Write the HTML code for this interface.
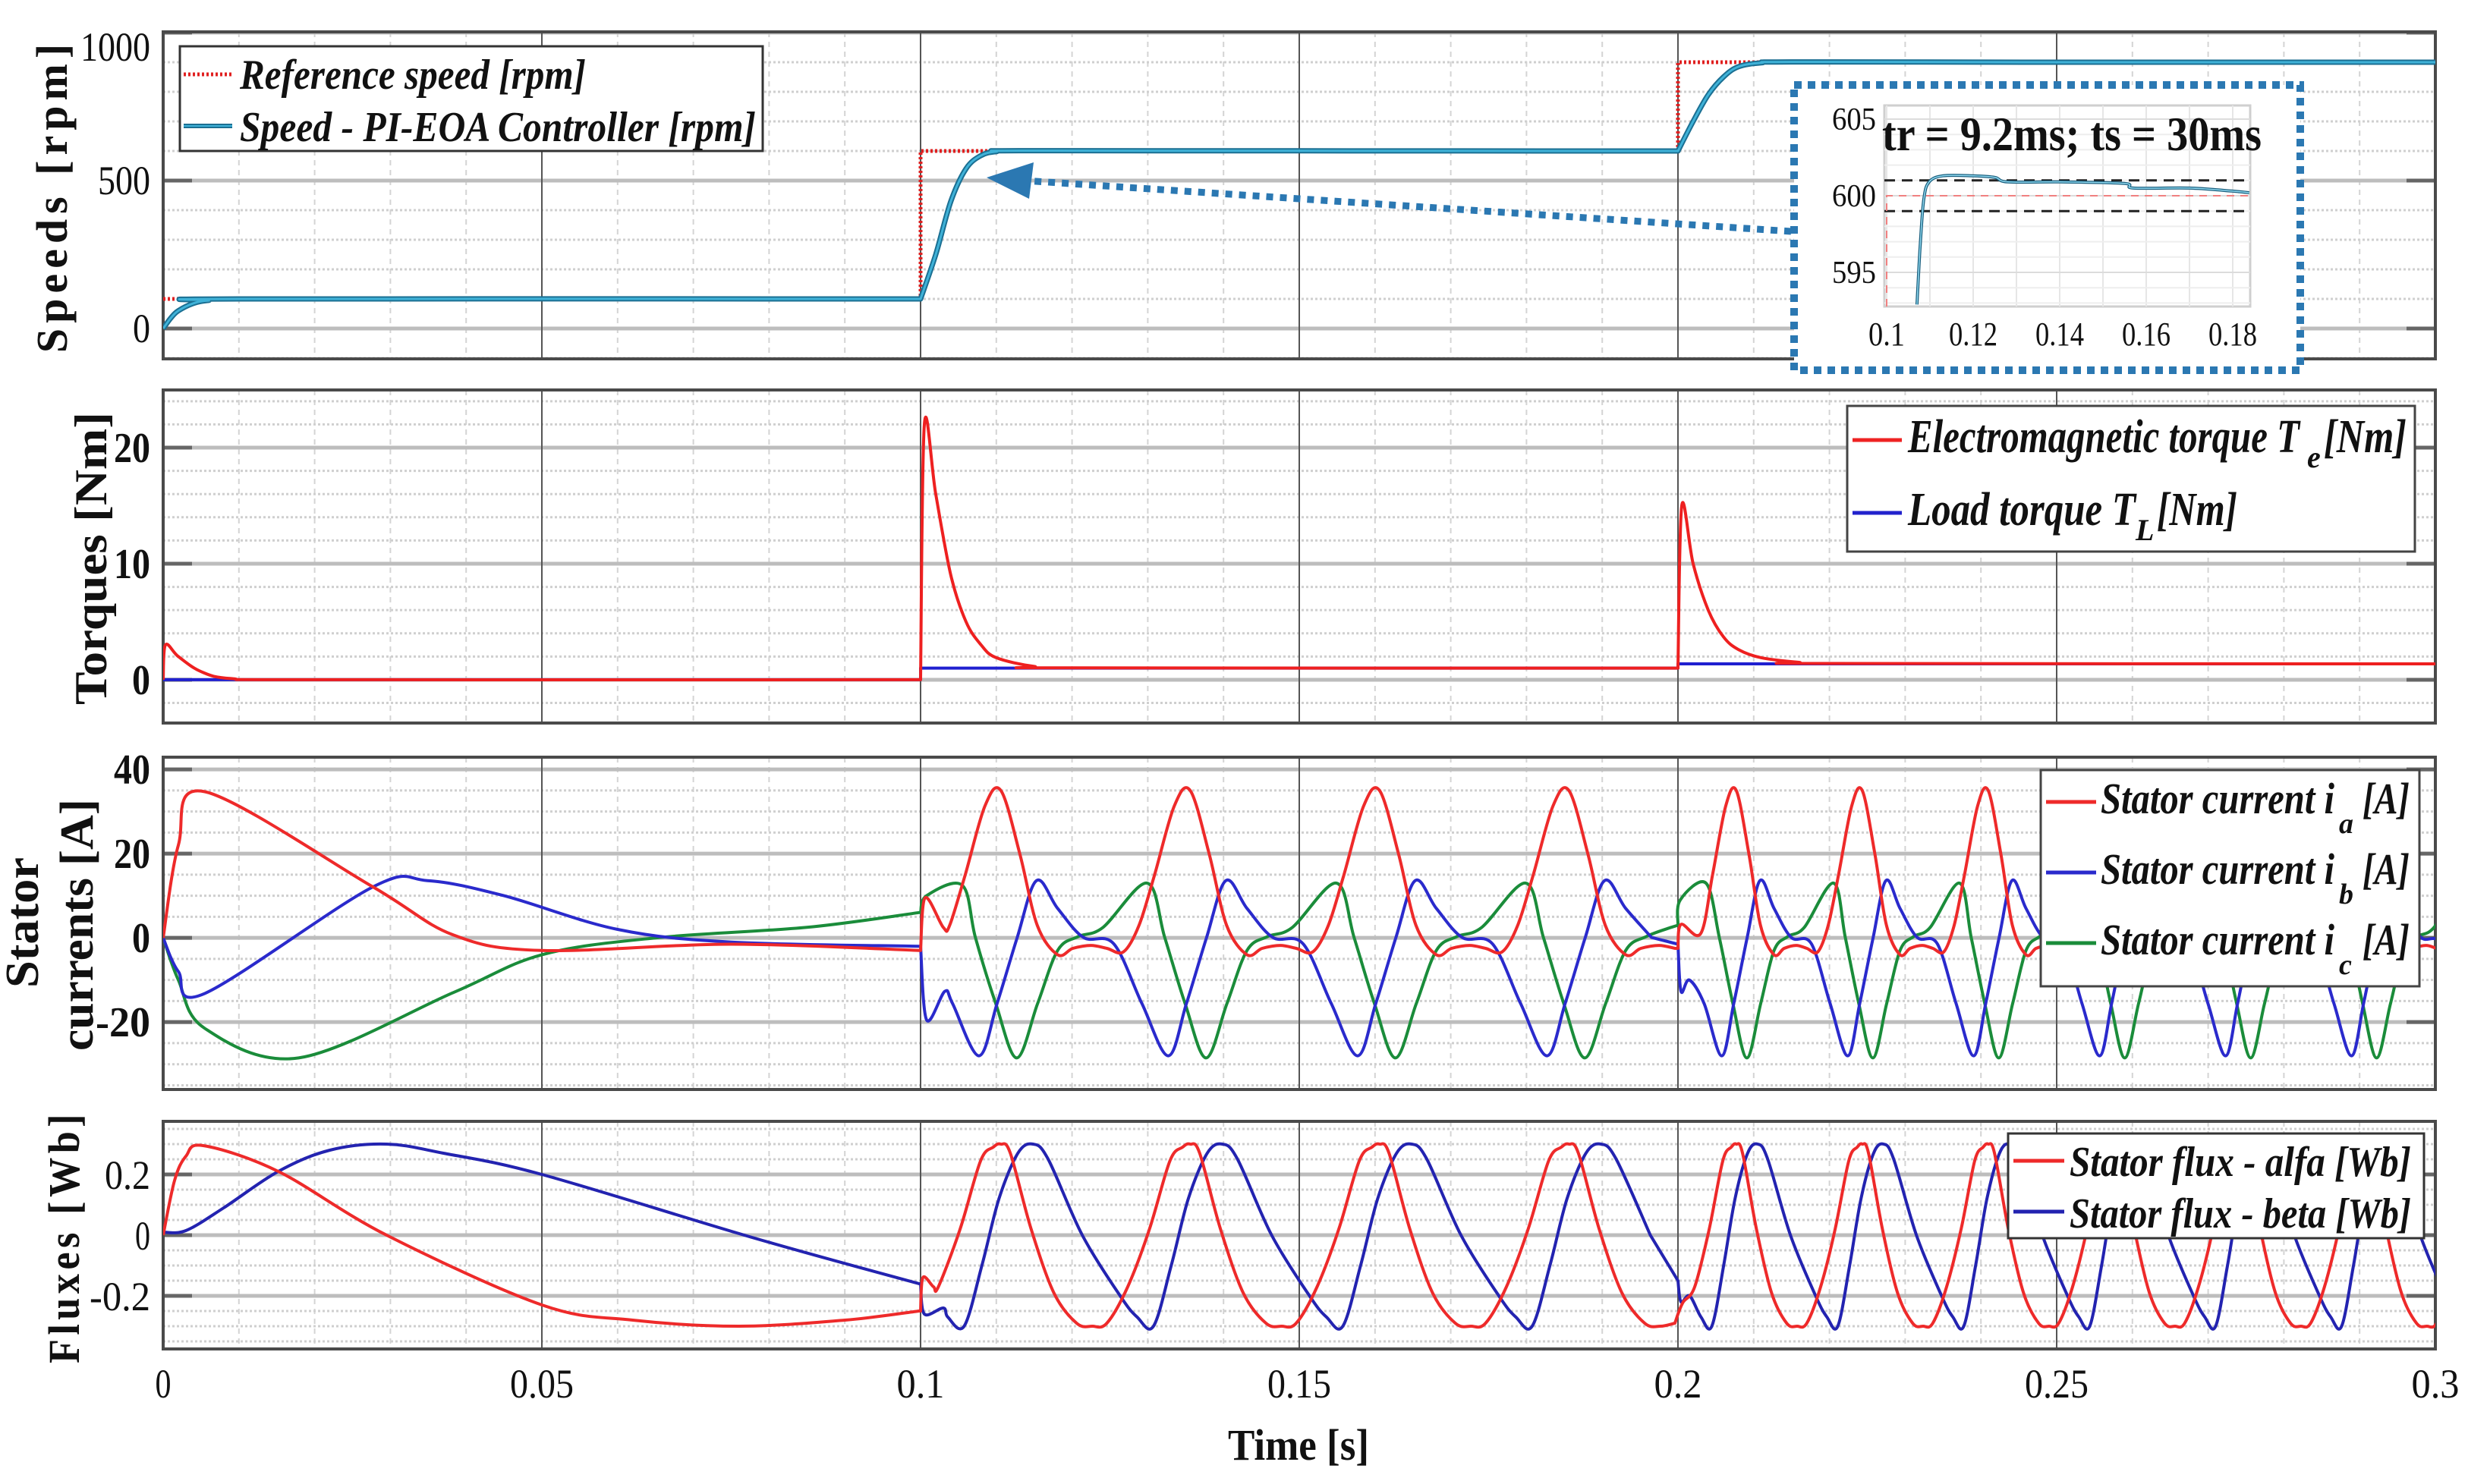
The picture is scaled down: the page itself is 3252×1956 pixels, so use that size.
<!DOCTYPE html>
<html><head><meta charset="utf-8"><title>PI-EOA speed control results</title>
<style>
html,body{margin:0;padding:0;background:#fff;}
svg{display:block;}
text{font-family:"Liberation Serif",serif;fill:#111;}
.lg{font-weight:bold;font-style:italic;}
.ax{font-weight:bold;}
</style></head>
<body>
<svg id="fig" xmlns="http://www.w3.org/2000/svg" width="3252" height="1956" viewBox="0 0 3252 1956">
<rect x="0" y="0" width="3252" height="1956" fill="#fff"/>
<defs>
<clipPath id="c1"><rect x="215" y="42" width="2994" height="431"/></clipPath>
<clipPath id="c2"><rect x="215" y="514" width="2994" height="439"/></clipPath>
<clipPath id="c3"><rect x="215" y="998" width="2994" height="438"/></clipPath>
<clipPath id="c4"><rect x="215" y="1478" width="2994" height="300"/></clipPath>
<clipPath id="ci"><rect x="2483" y="139" width="482" height="265"/></clipPath>
</defs>
<g id="grids"></g>
<g id="marks"></g>
<g id="inset"></g>
<g id="labels"></g>

<!-- axis titles -->
<text class="ax" font-size="58" letter-spacing="7" text-anchor="middle" transform="translate(88,258) rotate(-90)">Speeds [rpm]</text>
<text class="ax" font-size="60" text-anchor="middle" transform="translate(140,736) rotate(-90)" textLength="386" lengthAdjust="spacingAndGlyphs">Torques [Nm]</text>
<text class="ax" font-size="62" text-anchor="middle" transform="translate(50,1216) rotate(-90)" textLength="172" lengthAdjust="spacingAndGlyphs">Stator</text>
<text class="ax" font-size="62" text-anchor="middle" transform="translate(122,1219) rotate(-90)" textLength="332" lengthAdjust="spacingAndGlyphs">currents [A]</text>
<text class="ax" font-size="58" letter-spacing="6" text-anchor="middle" transform="translate(104,1630) rotate(-90)" textLength="334" lengthAdjust="spacingAndGlyphs">Fluxes [Wb]</text>
<text class="ax" font-size="58" text-anchor="middle" x="1711" y="1924" textLength="186" lengthAdjust="spacingAndGlyphs">Time [s]</text>

<!-- legend 1 -->
<g>
<rect x="237" y="61" width="768" height="138" fill="#fff" stroke="#333" stroke-width="3"/>
<line x1="242" y1="98" x2="306" y2="98" stroke="#e02020" stroke-width="5" stroke-dasharray="3 3"/>
<line x1="242" y1="166" x2="306" y2="166" stroke="#1b6f92" stroke-width="6"/>
<line x1="242" y1="166" x2="306" y2="166" stroke="#3fb2d8" stroke-width="2"/>
<text class="lg" font-size="56" x="316" y="117" textLength="456" lengthAdjust="spacingAndGlyphs">Reference speed [rpm]</text>
<text class="lg" font-size="56" x="316" y="186" textLength="680" lengthAdjust="spacingAndGlyphs">Speed - PI-EOA Controller [rpm]</text>
</g>

<!-- legend 2 -->
<g>
<rect x="2434" y="535" width="748" height="192" fill="#fff" stroke="#444" stroke-width="3"/>
<line x1="2441" y1="580" x2="2506" y2="580" stroke="#ee2222" stroke-width="5"/>
<line x1="2441" y1="676" x2="2506" y2="676" stroke="#2222cc" stroke-width="5"/>
<text class="lg" font-size="62" x="2514" y="596" textLength="516" lengthAdjust="spacingAndGlyphs">Electromagnetic torque T</text>
<text class="lg" font-size="40" x="3040" y="616">e</text>
<text class="lg" font-size="62" x="3062" y="596" textLength="109" lengthAdjust="spacingAndGlyphs">[Nm]</text>
<text class="lg" font-size="62" x="2514" y="692" textLength="300" lengthAdjust="spacingAndGlyphs">Load torque T</text>
<text class="lg" font-size="40" x="2814" y="712">L</text>
<text class="lg" font-size="62" x="2842" y="692" textLength="106" lengthAdjust="spacingAndGlyphs">[Nm]</text>
</g>

<!-- legend 3 -->
<g>
<rect x="2689" y="1015" width="499" height="285" fill="#fff" stroke="#444" stroke-width="3"/>
<line x1="2696" y1="1057" x2="2762" y2="1057" stroke="#ee2a2a" stroke-width="5"/>
<line x1="2696" y1="1150" x2="2762" y2="1150" stroke="#2a2acc" stroke-width="5"/>
<line x1="2696" y1="1243" x2="2762" y2="1243" stroke="#1a8c3a" stroke-width="5"/>
<text class="lg" font-size="58" x="2768" y="1072" textLength="308" lengthAdjust="spacingAndGlyphs">Stator current i</text>
<text class="lg" font-size="38" x="3082" y="1098">a</text>
<text class="lg" font-size="58" x="3113" y="1072" textLength="62" lengthAdjust="spacingAndGlyphs">[A]</text>
<text class="lg" font-size="58" x="2768" y="1165" textLength="308" lengthAdjust="spacingAndGlyphs">Stator current i</text>
<text class="lg" font-size="38" x="3082" y="1191">b</text>
<text class="lg" font-size="58" x="3113" y="1165" textLength="62" lengthAdjust="spacingAndGlyphs">[A]</text>
<text class="lg" font-size="58" x="2768" y="1258" textLength="308" lengthAdjust="spacingAndGlyphs">Stator current i</text>
<text class="lg" font-size="38" x="3082" y="1284">c</text>
<text class="lg" font-size="58" x="3113" y="1258" textLength="62" lengthAdjust="spacingAndGlyphs">[A]</text>
</g>

<!-- legend 4 -->
<g>
<rect x="2646" y="1494" width="548" height="138" fill="#fff" stroke="#333" stroke-width="3"/>
<line x1="2653" y1="1530" x2="2720" y2="1530" stroke="#ee2a2a" stroke-width="5"/>
<line x1="2653" y1="1597" x2="2720" y2="1597" stroke="#2323b0" stroke-width="5"/>
<text class="lg" font-size="56" x="2727" y="1550" textLength="450" lengthAdjust="spacingAndGlyphs">Stator flux - alfa [Wb]</text>
<text class="lg" font-size="56" x="2727" y="1618" textLength="450" lengthAdjust="spacingAndGlyphs">Stator flux - beta [Wb]</text>
</g>
<g id="overlay"></g>
</svg>

<script>
// ---------- data ----------
const refSpeedT = [0, 0.1, 0.1, 0.2, 0.2, 0.3];
const refSpeedV = [100, 100, 600, 600, 900, 900];
const speedSeg0 = [[0,0],[0.001,35],[0.002,60],[0.004,85],[0.006,95],[0.01,100],[0.1,100]];
const speedSeg1 = [[0.1,100],[0.102,250],[0.104,430],[0.106,540],[0.108,585],[0.11,598],[0.113,601],[0.15,600.5],[0.2,600]];
const speedSeg2 = [[0.2,600],[0.202,700],[0.204,790],[0.206,850],[0.208,885],[0.211,898],[0.215,901],[0.25,900],[0.3,900]];
const insetSpeed = [[0.107,592.9],[0.1078,597],[0.1086,599.8],[0.1098,600.9],[0.113,601.3],[0.12,601.3],[0.125,601.2],[0.128,600.9],[0.14,600.9],[0.155,600.8],[0.157,600.5],[0.17,600.5],[0.18,600.3],[0.1838,600.2]];
const insetBands = [601, 599];
const insetRef = 600;

const teSeg0 = [[0,0],[0.0003,3],[0.002,2],[0.005,0.7],[0.009,0.1],[0.02,0],[0.1,0]];
const teSeg1 = [[0.1,0],[0.1005,22],[0.102,16],[0.104,9],[0.106,5],[0.108,3],[0.11,1.9],[0.115,1.15],[0.12,1.02],[0.2,1.0]];
const teSeg2 = [[0.2,1],[0.2005,15],[0.202,10],[0.204,6],[0.206,3.7],[0.208,2.6],[0.211,1.9],[0.216,1.5],[0.22,1.4],[0.3,1.37]];
const tlT = [0, 0.1, 0.1, 0.2, 0.2, 0.3];
const tlV = [0, 0, 1.0, 1.0, 1.37, 1.37];

// currents: startup, transitions, and one-period shapes (phase relative to ia peak, value)
const ia0 = [[0,0],[0.002,22],[0.0055,34.7],[0.0276,12.2],[0.0383,0.7],[0.05,-3],[0.075,-1.5],[0.0998,-3]];
const ib0 = [[0,0],[0.002,-8],[0.0055,-13.2],[0.0276,12],[0.0349,13.6],[0.045,10],[0.06,2],[0.075,-1],[0.0998,-2]];
const ic0 = [[0,0],[0.002,-10],[0.0055,-21.5],[0.0179,-28.5],[0.0383,-13],[0.05,-4],[0.065,0],[0.085,2.5],[0.0998,6]];
const iaTransA = [[0.1,-3],[0.1006,9.5],[0.103,2.5]];
const ibTransA = [[0.1,-2],[0.1008,-19.5],[0.1032,-12.7]];
const icTransA = [[0.1,6],[0.1008,10],[0.1055,12.5]];
const iaTransB = [[0.2,-2.5],[0.2004,3.2],[0.203,1]];
const ibTransB = [[0.2,-1.5],[0.2004,-12.7],[0.2015,-10]];
const icTransB = [[0.2,3],[0.2003,9],[0.2037,13]];
const iaShape = [[-0.188,15],[-0.084,31.3],[0,35],[0.1,20],[0.192,3],[0.3,-4],[0.38,-2.5],[0.476,-1.8],[0.56,-2.5],[0.648,-3.3],[0.73,3]];
const ibShape = [[-0.116,-28],[-0.02,-15.6],[0.086,0],[0.188,13.6],[0.3,7],[0.436,0.1],[0.596,-1.4],[0.745,-15.6]];
const icShape = [[0.084,-28.5],[0.194,-15.6],[0.3,-3],[0.408,0.3],[0.54,2.5],[0.772,13],[0.866,0],[0.973,-15.6]];
const segA = {start:0.1, end:0.2, firstPeak:0.1106, period:0.025};
const segB = {start:0.2, end:0.31, firstPeak:0.2077, period:0.01663};

// fluxes
const fa0 = [[0,0],[0.0015,0.18],[0.003,0.26],[0.0053,0.295],[0.0152,0.21],[0.0295,0],[0.05,-0.23],[0.062,-0.28],[0.076,-0.3],[0.09,-0.28],[0.0998,-0.25]];
const fb0 = [[0,0.01],[0.003,0.015],[0.008,0.09],[0.0152,0.21],[0.022,0.28],[0.0295,0.30],[0.037,0.27],[0.05,0.2],[0.0781,-0.01],[0.0998,-0.16]];
const faTransA = [[0.1,-0.25],[0.1003,-0.14],[0.1017,-0.17]];
const fbTransA = [[0.1,-0.16],[0.1005,-0.26],[0.103,-0.24]];
const faTransB = [[0.2,-0.26],[0.2007,-0.22]];
const fbTransB = [[0.2,-0.15],[0.2004,-0.22]];
const faShape = [[-0.44,-0.29],[-0.33,-0.17],[-0.215,0.02],[-0.107,0.245],[-0.04,0.29],[0,0.3],[0.05,0.27],[0.16,0.02],[0.28,-0.19],[0.4,-0.29],[0.483,-0.3]];
const fbShape = [[0.17,0.3],[0.25,0.25],[0.43,0],[0.63,-0.2],[0.72,-0.27],[0.806,-0.3],[0.9,-0.1],[0.99,0.12],[1.09,0.27]];

// ticks
const xTicks = [0,0.05,0.1,0.15,0.2,0.25,0.3];
const xTickLabels = ['0','0.05','0.1','0.15','0.2','0.25','0.3'];
const speedTicks = [0,500,1000];
const torqueTicks = [0,10,20];
const currentTicks = [-20,0,20,40];
const fluxTicks = [-0.2,0,0.2];
const fluxTickLabels = ['-0.2','0','0.2'];
const insetXTicks = [0.1,0.12,0.14,0.16,0.18];
const insetXLabels = ['0.1','0.12','0.14','0.16','0.18'];
const insetYTicks = [595,600,605];

// ---------- geometry ----------
const NS='http://www.w3.org/2000/svg';
const X0=215, X1=3209, T0=0, T1=0.3;
function xs(t){return X0+(t-T0)/(T1-T0)*(X1-X0);}
const P = {
  speed:{top:42,bottom:473,min:-102.6,max:1002.6,minor:100,clip:'c1'},
  torque:{top:514,bottom:953,min:-3.73,max:24.97,minor:2,clip:'c2'},
  current:{top:998,bottom:1436,min:-36.0,max:42.9,minor:5,clip:'c3'},
  flux:{top:1478,bottom:1778,min:-0.375,max:0.375,minor:0.05,clip:'c4'}
};
function ys(p,v){return p.bottom-(v-p.min)/(p.max-p.min)*(p.bottom-p.top);}
function el(tag,attrs,parent){const e=document.createElementNS(NS,tag);for(const k in attrs)e.setAttribute(k,attrs[k]);parent.appendChild(e);return e;}

function spline(pts){
  if(pts.length<2) return '';
  let d='';
  for(let i=0;i<pts.length-1;i++){
    const p0=pts[Math.max(i-1,0)],p1=pts[i],p2=pts[i+1],p3=pts[Math.min(i+2,pts.length-1)];
    const c1x=p1[0]+(p2[0]-p0[0])/6,c1y=p1[1]+(p2[1]-p0[1])/6;
    const c2x=p2[0]-(p3[0]-p1[0])/6,c2y=p2[1]-(p3[1]-p1[1])/6;
    d+=` C${c1x.toFixed(1)},${c1y.toFixed(1)} ${c2x.toFixed(1)},${c2y.toFixed(1)} ${p2[0].toFixed(1)},${p2[1].toFixed(1)}`;
  }
  return d;
}
function segPath(p,segs){
  let d='';
  segs.forEach((s,i)=>{
    const px=s.map(q=>[xs(q[0]),ys(p,q[1])]);
    d+=(i===0?'M':' L')+px[0][0].toFixed(1)+','+px[0][1].toFixed(1)+spline(px);
  });
  return d;
}
function linePath(p,T,V){return T.map((t,i)=>(i?'L':'M')+xs(t).toFixed(1)+','+ys(p,V[i]).toFixed(1)).join(' ');}
function expand(shape,seg,after){
  const out=[];
  for(let k=-3;k<14;k++){for(const [ph,v] of shape){const t=seg.firstPeak+(k+ph)*seg.period;if(t>after&&t<=seg.end)out.push([t,v]);}}
  out.sort((a,b)=>a[0]-b[0]);return out;
}
function periodic(start,trA,trB,shape){
  const a=trA.concat(expand(shape,segA,trA[trA.length-1][0]+0.0005));
  const b=trB.concat(expand(shape,segB,trB[trB.length-1][0]+0.0005));
  return [start,a,b];
}

// ---------- grids ----------
const grids=document.getElementById('grids');
const names={speed:'speed-panel',torque:'torque-panel',current:'current-panel',flux:'flux-panel'};
const tickSets={speed:speedTicks,torque:torqueTicks,current:currentTicks,flux:fluxTicks};
for(const key in P){
  const p=P[key];
  const g=el('g',{},grids);
  
  
  el('rect',{x:X0,y:p.top,width:X1-X0,height:p.bottom-p.top,fill:'#fff'},g);
  for(let i=1;i<30;i++){ if(i%5===0) continue; const x=xs(i*0.01);
    el('line',{x1:x,y1:p.top,x2:x,y2:p.bottom,stroke:'#d4d4d4','stroke-width':2,'stroke-dasharray':'7 6'},g);}
  const n0=Math.ceil(p.min/p.minor), n1=Math.floor(p.max/p.minor);
  for(let n=n0;n<=n1;n++){ const v=n*p.minor; if(tickSets[key].some(t=>Math.abs(t-v)<1e-9)) continue; const y=ys(p,v);
    el('line',{x1:X0,y1:y,x2:X1,y2:y,stroke:'#cfcfcf','stroke-width':3,'stroke-dasharray':'3 3'},g);}
  tickSets[key].forEach(v=>{const y=ys(p,v);
    el('line',{x1:X0,y1:y,x2:X1,y2:y,stroke:'#bdbdbd','stroke-width':5},g);
    el('line',{x1:X0,y1:y,x2:X0+38,y2:y,stroke:'#666','stroke-width':5},g);
    el('line',{x1:X1-38,y1:y,x2:X1,y2:y,stroke:'#666','stroke-width':5},g);});
  xTicks.forEach(t=>{const x=xs(t); if(t===0||t===0.3) return;
    el('line',{x1:x,y1:p.top,x2:x,y2:p.bottom,stroke:'#555','stroke-width':2},g);});
  el('rect',{x:X0,y:p.top,width:X1-X0,height:p.bottom-p.top,fill:'none',stroke:'#4a4a4a','stroke-width':4},g);
}

// ---------- marks ----------
const marks=document.getElementById('marks');
function addPath(d,name,stroke,w,clip,dash){
  const e=el('path',{d:d,fill:'none',stroke:stroke,'stroke-width':w,'stroke-linejoin':'round','clip-path':'url(#'+clip+')'},marks);
  if(dash) e.setAttribute('stroke-dasharray',dash);
  
  
  return e;
}
addPath(linePath(P.speed,refSpeedT,refSpeedV),'reference-speed-line','#e02020',5,'c1','3 3');
const spd=segPath(P.speed,[speedSeg0,speedSeg1,speedSeg2]);
addPath(spd,'speed-line-outline','#1b6f92',7,'c1');
addPath(spd,'speed-line','#3fb2d8',3,'c1');

addPath(linePath(P.torque,tlT,tlV),'load-torque-line','#2020d0',4,'c2');
addPath(segPath(P.torque,[teSeg0,teSeg1,teSeg2]),'electromagnetic-torque-line','#ee2020',4,'c2');

addPath(segPath(P.current,periodic(ic0,icTransA,icTransB,icShape)),'current-ic-line','#1a8c3a',4,'c3');
addPath(segPath(P.current,periodic(ib0,ibTransA,ibTransB,ibShape)),'current-ib-line','#2a2acc',4,'c3');
addPath(segPath(P.current,periodic(ia0,iaTransA,iaTransB,iaShape)),'current-ia-line','#ee2a2a',4,'c3');

addPath(segPath(P.flux,periodic(fb0,fbTransA,fbTransB,fbShape)),'flux-beta-line','#2323b0',4,'c4');
addPath(segPath(P.flux,periodic(fa0,faTransA,faTransB,faShape)),'flux-alfa-line','#ee2a2a',4,'c4');

// ---------- tick labels ----------
const labels=document.getElementById('labels');
function addText(txt,x,y,size,anchor,bold,name,len){
  const e=el('text',{x:x,y:y,'font-size':size,'text-anchor':anchor},labels);
  if(bold) e.setAttribute('font-weight','bold');
  if(len){e.setAttribute('textLength',len);e.setAttribute('lengthAdjust','spacingAndGlyphs');}
  e.textContent=txt;
  
  
  return e;
}
speedTicks.forEach(v=>{const y=Math.max(ys(P.speed,v),62); addText(String(v),198,y+18,54,'end',false,'speed-tick-'+v,String(v).length*23);});
torqueTicks.forEach(v=>addText(String(v),198,ys(P.torque,v)+19,56,'end',true,'torque-tick-'+v,String(v).length*24));
currentTicks.forEach(v=>addText(String(v),198,ys(P.current,v)+19,56,'end',true,'current-tick-'+v,String(v).length*24));
fluxTicks.forEach((v,i)=>addText(fluxTickLabels[i],198,ys(P.flux,v)+19,54,'end',false,'flux-tick-'+fluxTickLabels[i],fluxTickLabels[i].length*20));
xTicks.forEach((t,i)=>addText(xTickLabels[i],xs(t),1842,54,'middle',false,'x-tick-'+xTickLabels[i],xTickLabels[i].length*21));

// ---------- inset ----------
const inset=document.getElementById('inset');
const IX0=2483,IX1=2965,IY0=139,IY1=404;
function ix(t){return 2486+(t-0.1)*5700;}
function iy(v){return 258-(v-600)*20.2;}
const ib=el('g',{},inset);


el('rect',{x:2364,y:112,width:667,height:376,fill:'#fff'},ib);
el('rect',{x:IX0,y:IY0,width:IX1-IX0,height:IY1-IY0,fill:'#fff',stroke:'#cfcfcf','stroke-width':3},ib);
for(let t=0.1;t<0.185;t+=0.01){const x=ix(t); el('line',{x1:x,y1:IY0,x2:x,y2:IY1,stroke:'#e6e6e6','stroke-width':2},ib);}
for(let v=593;v<=605;v+=1){const y=iy(v); el('line',{x1:IX0,y1:y,x2:IX1,y2:y,stroke:(v%5===0?'#dcdcdc':'#eeeeee'),'stroke-width':2},ib);}
insetBands.forEach(v=>{const e=el('line',{x1:IX0,y1:iy(v),x2:IX1,y2:iy(v),stroke:'#222','stroke-width':3,'stroke-dasharray':'14 9'},ib);
  
  });
const ir=el('path',{d:`M${ix(0.1)},${IY1} L${ix(0.1)},${iy(insetRef)} L${IX1},${iy(insetRef)}`,fill:'none',stroke:'#f08080','stroke-width':2,'stroke-dasharray':'10 8','clip-path':'url(#ci)'},ib);


const ipts=insetSpeed.map(q=>[ix(q[0]),iy(q[1])]);
const ipd='M'+ipts[0][0]+','+ipts[0][1]+spline(ipts);
el('path',{d:ipd,fill:'none',stroke:'#1b5f7e','stroke-width':4,'clip-path':'url(#ci)'},ib);
const isl=el('path',{d:ipd,fill:'none',stroke:'#8fd8ef','stroke-width':1.5,'clip-path':'url(#ci)'},ib);


insetXTicks.forEach((t,i)=>{const e=el('text',{x:ix(t),y:455,'font-size':44,'text-anchor':'middle',textLength:insetXLabels[i].length*16,lengthAdjust:'spacingAndGlyphs'},ib);e.textContent=insetXLabels[i];
  
  });
insetYTicks.forEach(v=>{const y=Math.max(iy(v),150); const e=el('text',{x:2472,y:y+14,'font-size':42,'text-anchor':'end',textLength:58,lengthAdjust:'spacingAndGlyphs'},ib);e.textContent=String(v);
  
  });
const it=el('text',{x:2480,y:198,'font-size':64,'font-weight':'bold',fill:'#2a6f98',textLength:500,lengthAdjust:'spacingAndGlyphs'},ib);
it.textContent='tr = 9.2ms; ts = 30ms';


const ibox=el('rect',{x:2364,y:112,width:667,height:376,fill:'none',stroke:'#2b78b2','stroke-width':10,'stroke-dasharray':'10 8'},ib);



// arrow
const ov=document.getElementById('overlay');
const ar=el('g',{},ov);


el('line',{x1:2360,y1:305,x2:1350,y2:238,stroke:'#2b78b2','stroke-width':9,'stroke-dasharray':'9 9'},ar);
el('polygon',{points:'1300,234 1362,214 1356,262',fill:'#2b78b2'},ar);
</script>
</body></html>
